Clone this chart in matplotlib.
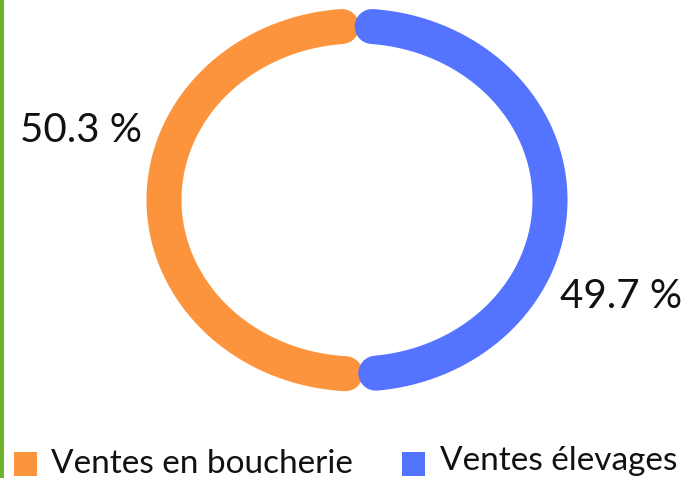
import numpy as np
import matplotlib
matplotlib.use("Agg")
import matplotlib.pyplot as plt
from matplotlib.patches import Rectangle

categories = ["Ventes en boucherie", "Ventes élevages"]
values = [50.3, 49.7]
labels = ["50.3 %", "49.7 %"]
colors = ["#FB943D", "#5473FF"]

W, H = 686, 478
fig = plt.figure(figsize=(W / 100, H / 100), dpi=100)
ax = fig.add_axes([0, 0, 1, 1])
ax.set_xlim(0, W)
ax.set_ylim(H, 0)
ax.axis("off")

# green left rule
ax.add_patch(Rectangle((0, 0), 4, H, color="#6DB42C", lw=0))

cx, cy = 357, 200
rx, ry = 193, 174
lw_px = 35
gap = 4.5
total = sum(values)
start = 90.0
for i, v in enumerate(values):
    ext = v / total * 360.0
    a0 = start + gap
    a1 = start + ext - gap
    t = np.radians(np.linspace(a0, a1, 400))
    x = cx + rx * np.cos(t)
    y = cy - ry * np.sin(t)
    ax.plot(x, y, color=colors[i], lw=lw_px * 72 / 100, solid_capstyle="round", zorder=2 + i)
    start += ext

font = "Lato"
ax.text(20, 131, labels[0], fontsize=29, family=font, va="center", ha="left", color="#111111")
ax.text(682, 297, labels[1], fontsize=29, family=font, va="center", ha="right", color="#111111")

# legend
leg_x = [14, 402]
txt_x = [51, 440]
txt_y = [464, 461]
for i, c in enumerate(categories):
    ax.add_patch(Rectangle((leg_x[i], 452), 23, 24, color=colors[i], lw=0))
    ax.text(txt_x[i], txt_y[i], c, fontsize=24, family=font, va="center", ha="left", color="#111111")

fig.savefig("out.png", dpi=100)
